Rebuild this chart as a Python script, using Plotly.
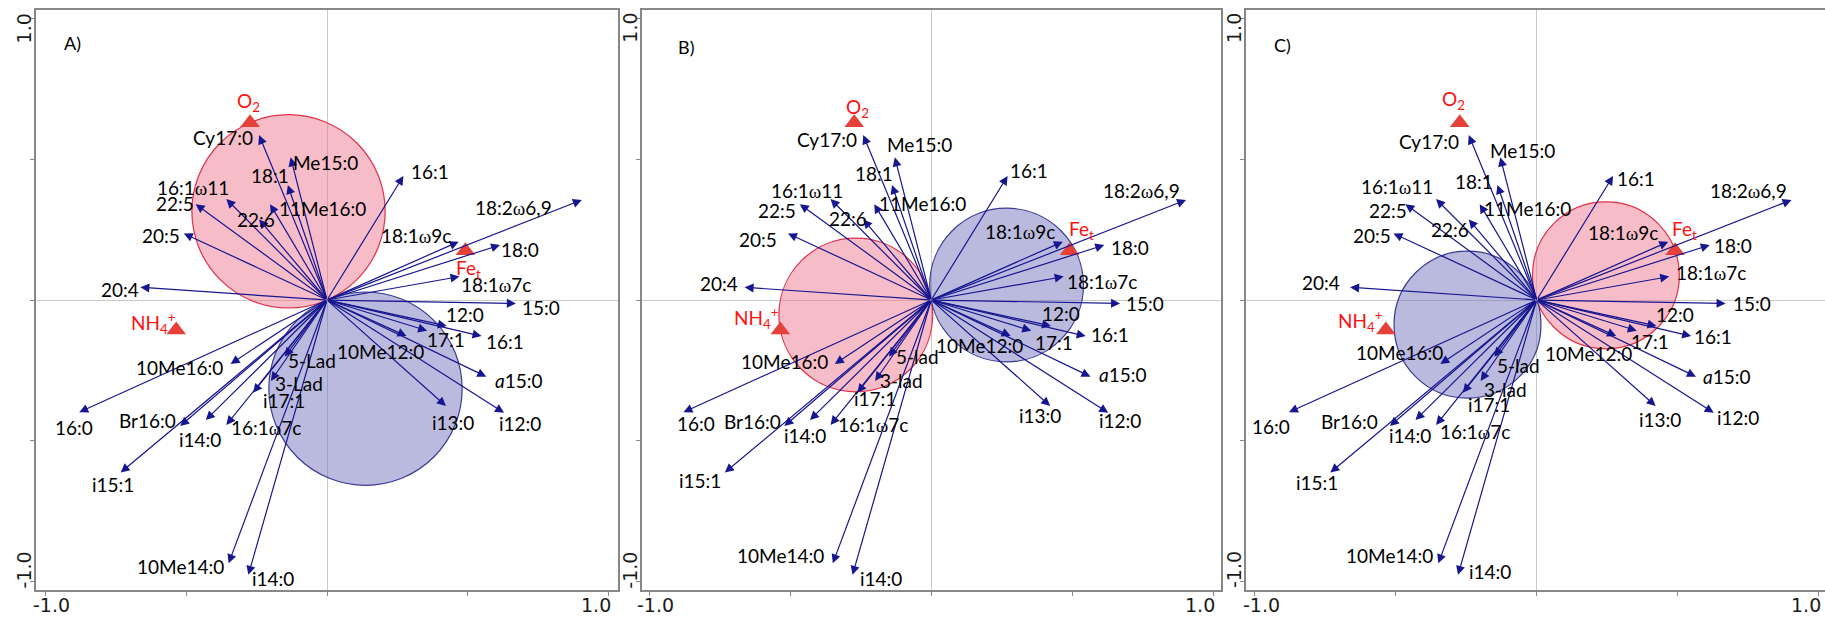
import math
import plotly.graph_objects as go

# ---------------------------------------------------------------------------
# PLFA species scores on ordination axes 1 and 2 (arrow tips)
# ---------------------------------------------------------------------------
OM = "<span style='font-family:Liberation Serif'>ω</span>"
species = [
    "Cy17:0", "Me15:0", "18:1", "16:1" + OM + "11", "22:5", "11Me16:0", "22:6",
    "20:5", "20:4", "16:1", "18:2" + OM + "6,9", "18:1" + OM + "9c", "18:0",
    "18:1" + OM + "7c", "15:0", "12:0", "17:1", "16:1", "10Me12:0", "<i>a</i>15:0",
    "i13:0", "i12:0", "10Me16:0", "16:0", "Br16:0", "i14:0", "16:1" + OM + "7c",
    "i17:1", "3-Lad", "5-Lad", "i15:1", "10Me14:0", "i14:0",
]
axis1_scores = [
    -0.241, -0.129, -0.139, -0.357, -0.466, -0.202, -0.241, -0.508, -0.662,
    0.271, 0.904, 0.467, 0.614, 0.470, 0.670, 0.425, 0.355, 0.548, 0.282, 0.565,
    0.422, 0.628, -0.342, -0.879, -0.521, -0.430, -0.357, -0.262, -0.199, -0.150,
    -0.732, -0.349, -0.279,
]
axis2_scores = [
    0.585, 0.506, 0.408, 0.358, 0.340, 0.340, 0.286, 0.236, 0.045,
    0.440, 0.355, 0.207, 0.195, 0.083, -0.012, -0.092, -0.109, -0.128, -0.128,
    -0.272, -0.376, -0.400, -0.227, -0.398, -0.447, -0.426, -0.443, -0.329,
    -0.287, -0.201, -0.612, -0.934, -0.975,
]

# Environmental variables (triangles)
env_names = ["O<sub>2</sub>", "Fe<sub>t</sub>", "NH<sub>4</sub><sup>+</sup>"]
env_axis1 = [-0.273, 0.491, -0.535]
env_axis2 = [0.629, 0.175, -0.106]

# Panel letters and the variable whose correlation circles each panel shows
panel_letters = ["A)", "B)", "C)"]
panel_circle_env = [0, 2, 1]

# ---------------------------------------------------------------------------
# Label placement for each panel (data coordinates)
# ---------------------------------------------------------------------------
label_pos = [
    [(-0.370, 0.577), (-0.004, 0.488), (-0.202, 0.441), (-0.476, 0.398), (-0.538, 0.343),
     (-0.015, 0.325), (-0.252, 0.284), (-0.588, 0.228), (-0.736, 0.039), (0.365, 0.455),
     (0.662, 0.329), (0.316, 0.228), (0.683, 0.180), (0.599, 0.056), (0.758, -0.026),
     (0.488, -0.053), (0.423, -0.139), (0.633, -0.148), (0.190, -0.183), (0.681, -0.284),
     (0.447, -0.435), (0.686, -0.437), (-0.525, -0.240), (-0.899, -0.453), (-0.637, -0.428),
     (-0.451, -0.494), (-0.215, -0.453), (-0.153, -0.355), (-0.101, -0.295), (-0.055, -0.216),
     (-0.760, -0.654), (-0.518, -0.946), (-0.190, -0.987)],
    [(-0.370, 0.570), (-0.042, 0.550), (-0.204, 0.449), (-0.439, 0.390), (-0.548, 0.317),
     (-0.032, 0.341), (-0.296, 0.290), (-0.613, 0.216), (-0.751, 0.057), (0.346, 0.459),
     (0.745, 0.388), (0.316, 0.242), (0.706, 0.187), (0.607, 0.065), (0.760, -0.012),
     (0.462, -0.047), (0.434, -0.151), (0.635, -0.124), (0.170, -0.160), (0.679, -0.266),
     (0.387, -0.411), (0.670, -0.428), (-0.520, -0.219), (-0.835, -0.437), (-0.633, -0.432),
     (-0.446, -0.479), (-0.208, -0.443), (-0.200, -0.349), (-0.107, -0.284), (-0.048, -0.199),
     (-0.821, -0.639), (-0.535, -0.905), (-0.177, -0.987)],
    [(-0.382, 0.562), (-0.050, 0.532), (-0.224, 0.420), (-0.494, 0.402), (-0.527, 0.317),
     (-0.034, 0.325), (-0.309, 0.251), (-0.585, 0.228), (-0.766, 0.061), (0.351, 0.432),
     (0.752, 0.388), (0.305, 0.240), (0.697, 0.193), (0.620, 0.097), (0.762, -0.014),
     (0.491, -0.050), (0.402, -0.148), (0.625, -0.130), (0.183, -0.189), (0.675, -0.272),
     (0.437, -0.423), (0.714, -0.416), (-0.487, -0.187), (-0.942, -0.447), (-0.665, -0.432),
     (-0.451, -0.479), (-0.218, -0.465), (-0.171, -0.369), (-0.111, -0.317), (-0.064, -0.231),
     (-0.781, -0.648), (-0.523, -0.905), (-0.166, -0.964)],
]
env_label_pos = [
    [(-0.277, 0.703), (0.502, 0.109), (-0.614, -0.081)],
    [(-0.261, 0.680), (0.533, 0.248), (-0.618, -0.065)],
    [(-0.295, 0.709), (0.524, 0.248), (-0.626, -0.073)],
]
# panels B and C spell the ladderane lipids in lower case
label_override = [{}, {28: "3-lad", 29: "5-lad"}, {28: "3-lad", 29: "5-lad"}]

# ---------------------------------------------------------------------------
# Geometry (pixels) and styling
# ---------------------------------------------------------------------------
W, H = 1825, 617
PX = 281.9                      # pixels per ordination unit (both axes)
BOX_TOP, BOX_BOTTOM, ORIGIN_Y = 10, 590, 300
box_left = [36.4, 641.7, 1246.0]
box_right = [617.7, 1221.0, 1825.0]
origin_x = [327.0, 931.2, 1536.7]
letter_px = [(72, 42.7), (686, 46.7), (1282.5, 45)]

NAVY = "#161690"
RED_TXT = "#ff1010"
TRI = "#e5403a"
AXIS_GREY = "#878787"
LABEL_FONT = dict(family="Lato, Carlito, sans-serif", size=19, color="#000000")
TICK_FONT = dict(family="DejaVu Sans", size=19, color="#1a1a1a")

fig = go.Figure()
annotations = []
shapes = []
ticks = [-1, -0.5, 0, 0.5, 1]

for p in range(3):
    sfx = "" if p == 0 else str(p + 1)
    xr, yr = "x" + sfx, "y" + sfx
    xrange = [(box_left[p] - origin_x[p]) / PX, (box_right[p] - origin_x[p]) / PX]
    yrange = [(ORIGIN_Y - BOX_BOTTOM) / PX, (ORIGIN_Y - BOX_TOP) / PX]
    common = dict(showgrid=False, zeroline=True, zerolinecolor="#c9c9c9", zerolinewidth=1,
                  showline=True, linecolor=AXIS_GREY, linewidth=2,
                  ticks="outside", ticklen=4, tickwidth=1, tickcolor=AXIS_GREY,
                  tickvals=ticks, showticklabels=False, fixedrange=True)
    fig.layout["xaxis" + sfx] = dict(common, domain=[box_left[p] / W, box_right[p] / W],
                                     range=xrange, anchor=yr, mirror=True)
    fig.layout["yaxis" + sfx] = dict(common, domain=[1 - BOX_BOTTOM / H, 1 - BOX_TOP / H],
                                     range=yrange, anchor=xr, mirror=(p < 2))

    # correlation circles of the chosen variable: positive (pink) and negative (blue)
    e = panel_circle_env[p]
    cx, cy = env_axis1[e] / 2, env_axis2[e] / 2
    r = math.hypot(env_axis1[e], env_axis2[e]) / 2
    for sgn, fill, edge in [(1, "rgba(236,118,140,0.48)", "#e0304a"),
                            (-1, "rgba(118,118,190,0.50)", "#3a3a95")]:
        shapes.append(dict(type="circle", xref=xr, yref=yr, layer="between",
                           x0=sgn * cx - r, x1=sgn * cx + r, y0=sgn * cy - r, y1=sgn * cy + r,
                           fillcolor=fill, line=dict(color=edge, width=1.2)))

    # species arrows from the origin
    for i in range(len(species)):
        annotations.append(dict(x=axis1_scores[i], y=axis2_scores[i], xref=xr, yref=yr,
                                ax=0, ay=0, axref=xr, ayref=yr, text="", showarrow=True,
                                arrowhead=2, arrowsize=1.5, arrowwidth=1.2,
                                arrowcolor=NAVY, standoff=0, startstandoff=0))
    # species labels
    for i, name in enumerate(species):
        lx, ly = label_pos[p][i]
        annotations.append(dict(x=lx, y=ly, xref=xr, yref=yr, showarrow=False,
                                text=label_override[p].get(i, name), font=LABEL_FONT,
                                xanchor="center", yanchor="middle"))

    # environmental variables
    fig.add_trace(go.Scatter(x=env_axis1, y=env_axis2, xaxis=xr, yaxis=yr, mode="markers",
                             marker=dict(symbol="triangle-up", size=17, color=TRI,
                                         line=dict(width=0)),
                             hoverinfo="skip", showlegend=False))
    for j, name in enumerate(env_names):
        lx, ly = env_label_pos[p][j]
        annotations.append(dict(x=lx, y=ly, xref=xr, yref=yr, showarrow=False, text=name,
                                font=dict(LABEL_FONT, color=RED_TXT),
                                xanchor="center", yanchor="middle"))

    # panel letter
    annotations.append(dict(x=letter_px[p][0] / W, y=1 - letter_px[p][1] / H,
                            xref="paper", yref="paper", showarrow=False,
                            text=panel_letters[p], font=dict(LABEL_FONT, size=18),
                            xanchor="center", yanchor="middle"))

    # axis end labels
    xlab_y = 1 - 605 / H
    annotations.append(dict(x=-1, y=xlab_y, xref=xr, yref="paper", showarrow=False,
                            text="-1.0", font=TICK_FONT, xanchor="left", yanchor="middle",
                            xshift=-14))
    annotations.append(dict(x=1, y=xlab_y, xref=xr, yref="paper", showarrow=False,
                            text="1.0", font=TICK_FONT, xanchor="right", yanchor="middle",
                            xshift=4))
    ylab_x = (box_left[p] - 12) / W
    annotations.append(dict(x=ylab_x, y=(ORIGIN_Y - 28) / PX, xref="paper", yref=yr,
                            showarrow=False, text="1.0", font=TICK_FONT, textangle=-90,
                            xanchor="center", yanchor="middle"))
    annotations.append(dict(x=ylab_x, y=(ORIGIN_Y - 570) / PX, xref="paper", yref=yr,
                            showarrow=False, text="-1.0", font=TICK_FONT, textangle=-90,
                            xanchor="center", yanchor="middle"))

fig.update_layout(width=W, height=H, margin=dict(l=0, r=0, t=0, b=0),
                  paper_bgcolor="white", plot_bgcolor="white",
                  annotations=annotations, shapes=shapes, showlegend=False)

fig.write_html("out.html", config=dict(displayModeBar=False))
